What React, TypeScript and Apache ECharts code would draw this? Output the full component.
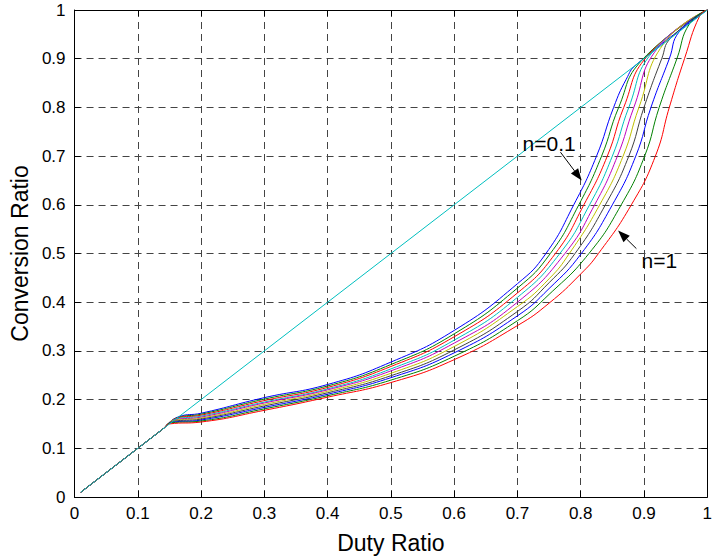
import React, { useEffect, useRef } from "react";
import * as echarts from "echarts";

// n values of the curve family (top-left curve n=0.1 ... bottom-right curve n=1)
const nValues = ["0.1", "0.2", "0.3", "0.4", "0.5", "0.6", "0.7", "0.8", "0.9", "1"];

// MATLAB default colour order
const curveColors = ["#0000FF", "#008000", "#FF0000", "#00BFBF", "#BF00BF", "#BFBF00", "#404040", "#0000FF", "#008000", "#FF0000"];
const idealColor = "#00BFBF";

// [Duty Ratio, Conversion Ratio]
const curveN01 = [[0.01, 0.01], [0.14, 0.14], [0.165, 0.165], [0.2, 0.172], [0.3, 0.204], [0.4, 0.231], [0.5, 0.277], [0.6, 0.342], [0.7, 0.438], [0.745, 0.5], [0.789, 0.6], [0.825, 0.7], [0.852, 0.8], [0.872, 0.858], [0.888, 0.888], [1, 1]];
const curveN02 = [[0.01, 0.01], [0.14, 0.14], [0.163, 0.163], [0.2, 0.17], [0.3, 0.201], [0.4, 0.228], [0.5, 0.272], [0.6, 0.335], [0.7, 0.429], [0.752, 0.5], [0.797, 0.6], [0.833, 0.7], [0.86, 0.8], [0.896, 0.896], [1, 1]];
const curveN03 = [[0.01, 0.01], [0.14, 0.14], [0.162, 0.162], [0.2, 0.168], [0.3, 0.198], [0.4, 0.225], [0.5, 0.268], [0.6, 0.329], [0.7, 0.419], [0.76, 0.5], [0.805, 0.6], [0.842, 0.7], [0.868, 0.8], [0.905, 0.905], [1, 1]];
const curveN04 = [[0.01, 0.01], [0.14, 0.14], [0.16, 0.16], [0.2, 0.166], [0.3, 0.195], [0.4, 0.222], [0.5, 0.263], [0.6, 0.322], [0.7, 0.41], [0.767, 0.5], [0.814, 0.6], [0.85, 0.7], [0.876, 0.8], [0.913, 0.913], [1, 1]];
const curveN05 = [[0.01, 0.01], [0.14, 0.14], [0.158, 0.158], [0.2, 0.164], [0.3, 0.193], [0.4, 0.22], [0.5, 0.259], [0.6, 0.316], [0.7, 0.4], [0.775, 0.5], [0.822, 0.6], [0.858, 0.7], [0.884, 0.8], [0.921, 0.921], [1, 1]];
const curveN06 = [[0.01, 0.01], [0.14, 0.14], [0.157, 0.157], [0.2, 0.162], [0.3, 0.19], [0.4, 0.217], [0.5, 0.254], [0.6, 0.309], [0.7, 0.391], [0.75, 0.448], [0.782, 0.5], [0.83, 0.6], [0.867, 0.7], [0.892, 0.8], [0.931, 0.931], [1, 1]];
const curveN07 = [[0.01, 0.01], [0.14, 0.14], [0.155, 0.155], [0.2, 0.16], [0.3, 0.187], [0.4, 0.214], [0.5, 0.249], [0.6, 0.302], [0.7, 0.381], [0.75, 0.44], [0.791, 0.5], [0.839, 0.6], [0.876, 0.7], [0.9, 0.8], [0.928, 0.9], [0.942, 0.942], [1, 1]];
const curveN08 = [[0.01, 0.01], [0.14, 0.14], [0.153, 0.153], [0.2, 0.158], [0.3, 0.184], [0.4, 0.211], [0.5, 0.245], [0.6, 0.296], [0.7, 0.372], [0.75, 0.428], [0.801, 0.5], [0.85, 0.6], [0.887, 0.7], [0.911, 0.8], [0.94, 0.9], [0.956, 0.956], [1, 1]];
const curveN09 = [[0.01, 0.01], [0.14, 0.14], [0.152, 0.152], [0.2, 0.156], [0.3, 0.181], [0.4, 0.208], [0.5, 0.24], [0.6, 0.289], [0.7, 0.362], [0.75, 0.416], [0.813, 0.5], [0.864, 0.6], [0.901, 0.7], [0.924, 0.8], [0.952, 0.9], [0.972, 0.972], [1, 1]];
const curveN10 = [[0.01, 0.01], [0.14, 0.14], [0.15, 0.15], [0.2, 0.154], [0.3, 0.178], [0.4, 0.205], [0.5, 0.235], [0.6, 0.282], [0.7, 0.352], [0.75, 0.398], [0.8, 0.458], [0.828, 0.5], [0.88, 0.6], [0.918, 0.7], [0.94, 0.8], [0.964, 0.9], [0.988, 0.988], [1, 1]];
const idealLine = [[0.01, 0.01], [1, 1]];

const curves = [curveN01, curveN02, curveN03, curveN04, curveN05, curveN06, curveN07, curveN08, curveN09, curveN10];

// axis ranges
const axisMin = 0;
const axisMax = 1;
const axisStep = 0.1;

// annotations in data coordinates
const labelTopText = "n=0.1";
const labelTopAt = [0.708, 0.7255];
const arrowTop = [[0.768, 0.708], [0.8016, 0.65]];
const labelBottomText = "n=1";
const labelBottomAt = [0.896, 0.486];
const arrowBottom = [[0.888, 0.51], [0.859, 0.547]];

const FONT = "'Liberation Sans', Arial, Helvetica, sans-serif";

export default function App() {
  const ref = useRef<HTMLDivElement>(null);

  useEffect(() => {
    document.body.style.margin = "0";
    const chart = echarts.init(ref.current!, null, { renderer: "svg" });

    const tick = { show: true, inside: true, length: 6, lineStyle: { color: "#000", width: 1 } };
    const line = { show: true, onZero: false, lineStyle: { color: "#000", width: 1 } };
    const split = { show: true, lineStyle: { color: "#444", width: 1, type: [7, 5] } };
    const label = { fontSize: 17, color: "#000", fontFamily: FONT };
    const nameStyle = { fontSize: 23, color: "#000", fontFamily: FONT };

    const series: any[] = curves.map((c, i) => ({
      name: "n=" + nValues[i],
      type: "line",
      data: c,
      showSymbol: false,
      symbol: "none",
      smooth: 0.5,
      lineStyle: { color: curveColors[i], width: 1 },
      itemStyle: { color: curveColors[i] },
      emphasis: { disabled: true },
      silent: true,
    }));
    series.push({
      name: "ideal",
      type: "line",
      data: idealLine,
      showSymbol: false,
      symbol: "none",
      lineStyle: { color: idealColor, width: 1 },
      emphasis: { disabled: true },
      silent: true,
    });

    chart.setOption({
      animation: false,
      backgroundColor: "#fff",
      grid: { left: 73, right: 2, top: 10, bottom: 62 },
      xAxis: [
        {
          type: "value", min: axisMin, max: axisMax, interval: axisStep, position: "bottom",
          name: "Duty Ratio", nameLocation: "middle", nameGap: 34, nameTextStyle: nameStyle,
          axisLine: line, axisTick: tick, axisLabel: { ...label, margin: 8 }, splitLine: split,
        },
        {
          type: "value", min: axisMin, max: axisMax, interval: axisStep, position: "top",
          axisLine: line, axisTick: tick, axisLabel: { show: false }, splitLine: { show: false },
        },
      ],
      yAxis: [
        {
          type: "value", min: axisMin, max: axisMax, interval: axisStep, position: "left",
          name: "Conversion Ratio", nameLocation: "middle", nameGap: 39, nameTextStyle: nameStyle,
          axisLine: line, axisTick: tick, axisLabel: { ...label, margin: 9 }, splitLine: split,
        },
        {
          type: "value", min: axisMin, max: axisMax, interval: axisStep, position: "right",
          axisLine: line, axisTick: tick, axisLabel: { show: false }, splitLine: { show: false },
        },
      ],
      series,
    });

    const px = (p: number[]) => chart.convertToPixel({ seriesIndex: 0 }, p) as number[];
    const arrow = (a: number[][]) => {
      const t = px(a[0]);
      const h = px(a[1]);
      const dx = h[0] - t[0];
      const dy = h[1] - t[1];
      const len = Math.sqrt(dx * dx + dy * dy);
      const ux = dx / len;
      const uy = dy / len;
      const L = 12;
      const W = 4.5;
      const bx = h[0] - ux * L;
      const by = h[1] - uy * L;
      return [
        { type: "line", shape: { x1: t[0], y1: t[1], x2: bx, y2: by }, style: { stroke: "#000", lineWidth: 1 }, z: 100 },
        {
          type: "polygon",
          shape: { points: [[h[0], h[1]], [bx - uy * W, by + ux * W], [bx + uy * W, by - ux * W]] },
          style: { fill: "#000" },
          z: 100,
        },
      ];
    };
    const lt = px(labelTopAt);
    const lb = px(labelBottomAt);
    chart.setOption({
      graphic: [
        { type: "text", x: lt[0], y: lt[1], z: 100, style: { text: labelTopText, fontSize: 21, fontFamily: FONT, fill: "#000", align: "left", verticalAlign: "middle" } },
        { type: "text", x: lb[0], y: lb[1], z: 100, style: { text: labelBottomText, fontSize: 21, fontFamily: FONT, fill: "#000", align: "left", verticalAlign: "middle" } },
        ...arrow(arrowTop),
        ...arrow(arrowBottom),
      ],
    });

    return () => chart.dispose();
  }, []);

  return <div ref={ref} style={{ width: 715, height: 559 }} />;
}
